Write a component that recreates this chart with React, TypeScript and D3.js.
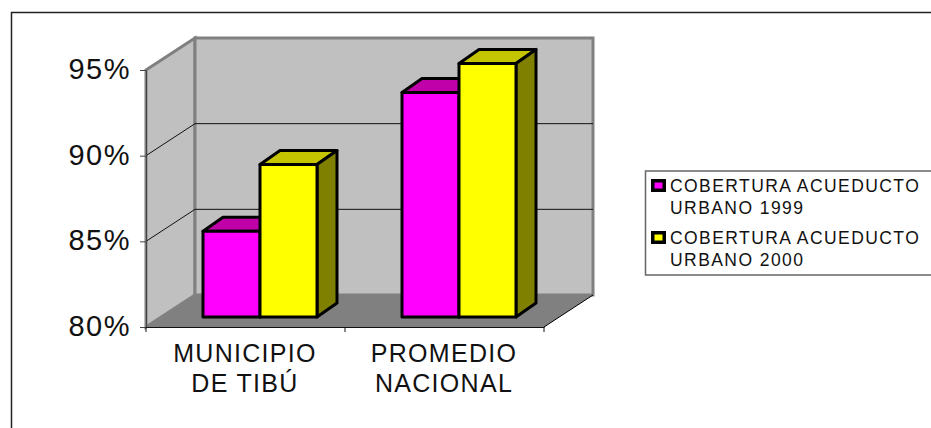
import { useEffect, useRef } from 'react'
import * as d3 from 'd3'

const categories = ['MUNICIPIO DE TIBÚ', 'PROMEDIO NACIONAL']
const categoryLines = [['MUNICIPIO', 'DE TIBÚ'], ['PROMEDIO', 'NACIONAL']]
const seriesNames = ['1999', '2000']
const values1999 = [85, 93.1]
const values2000 = [88.9, 94.8]
const yTicks = [80, 85, 90, 95]
const legendLines = [['COBERTURA ACUEDUCTO', 'URBANO 1999'], ['COBERTURA ACUEDUCTO', 'URBANO 2000']]

const FONT = '"Liberation Sans", Arial, sans-serif'
const X0 = 146, X1 = 544, Y0 = 327, Y1 = 70
const DX = 49, DY = -32 // box depth
const BDX = 20, BDY = -14 // bar depth
const OFFX = 14.5, OFFY = -10 // bar position inside the box
const faces = [
  { front: '#ff00ff', top: '#c000a8', side: '#800080' },
  { front: '#ffff00', top: '#c4c400', side: '#808000' },
]

export default function App() {
  const svgRef = useRef<SVGSVGElement>(null)

  useEffect(() => {
    const svg = d3.select(svgRef.current)
    svg.selectAll('*').remove()

    const xSc = d3.scaleBand<string>().domain(categories).range([X0, X1])
    const inner = d3.scaleBand<string>().domain(seriesNames).range([0, 114])
    const ySc = d3.scaleLinear().domain([80, 95]).range([Y0, Y1])
    const pts = (p: number[][]) => p.map((q) => q.join(',')).join(' ')

    // chart frame, only top and left are inside the picture
    svg.append('path').attr('d', 'M11.5,428V12.5H931').attr('fill', 'none').attr('stroke', '#222').attr('stroke-width', 1.5)

    // walls and floor
    svg.append('polygon').attr('points', pts([[X0, Y1], [X0 + DX, Y1 + DY], [X0 + DX, Y0 + DY], [X0, Y0]])).attr('fill', '#c0c0c0').attr('stroke', '#808080').attr('stroke-width', 3)
    svg.append('rect').attr('x', X0 + DX).attr('y', Y1 + DY).attr('width', X1 - X0).attr('height', Y0 - Y1).attr('fill', '#c0c0c0').attr('stroke', '#808080').attr('stroke-width', 3)
    svg.append('polygon').attr('points', pts([[X0, Y0], [X0 + DX, Y0 + DY], [X1 + DX, Y0 + DY], [X1, Y0]])).attr('fill', '#808080')
    svg.append('line').attr('x1', X1).attr('x2', X1 + DX).attr('y1', Y0).attr('y2', Y0 + DY).attr('stroke', '#000')

    // gridlines run along the side wall and across the back wall
    yTicks.filter((t) => t > 80 && t < 95).forEach((t) => {
      svg.append('path').attr('d', `M${X0},${ySc(t)}L${X0 + DX},${ySc(t) + DY}H${X1 + DX}`).attr('fill', 'none').attr('stroke', '#111').attr('stroke-width', 1)
    })

    // axes
    const yAxis = svg.append('g').attr('transform', `translate(${X0},0)`)
      .call(d3.axisLeft(ySc).tickValues(yTicks).tickSize(6).tickPadding(9).tickFormat((d) => `${d}%`))
    yAxis.selectAll('.domain').attr('stroke', '#444')
    yAxis.selectAll('.tick line').attr('stroke', '#444')
    yAxis.selectAll('.tick text').attr('fill', '#111').attr('font-size', '29px').attr('letter-spacing', '1.5px').attr('dy', '0.29em').attr('font-family', FONT)

    const xAxis = svg.append('g').attr('transform', `translate(0,${Y0})`)
      .call(d3.axisBottom(xSc).tickSize(0).tickFormat(() => ''))
    xAxis.selectAll('.domain').attr('stroke', '#111')
    xAxis.selectAll('.tick line').remove()
    const edges = [X0, ...categories.map((c) => (xSc(c) as number) + xSc.bandwidth())]
    edges.forEach((e) => svg.append('line').attr('x1', e).attr('x2', e).attr('y1', Y0).attr('y2', Y0 + 5).attr('stroke', '#111'))

    categories.forEach((c, i) => {
      categoryLines[i].forEach((ln, j) => {
        svg.append('text').attr('x', (xSc(c) as number) + xSc.bandwidth() / 2 - 0.5).attr('y', 361.5 + j * 30.5)
          .attr('text-anchor', 'middle').attr('fill', '#111').attr('font-size', '25px').attr('letter-spacing', '1.3px')
          .attr('font-family', FONT).text(ln)
      })
    })

    // bars, back series first so the yellow box overlaps the magenta one
    const series = [values1999, values2000]
    series.forEach((vals, s) => {
      vals.forEach((v, i) => {
        const x = (xSc(categories[i]) as number) + OFFX + 42.5 + (inner(seriesNames[s]) as number)
        const w = inner.bandwidth()
        const top = ySc(v) + OFFY
        const base = Y0 + OFFY
        const g = svg.append('g').attr('stroke', '#000').attr('stroke-width', 3).attr('stroke-linejoin', 'round')
        g.append('polygon').attr('points', pts([[x, top], [x + BDX, top + BDY], [x + w + BDX, top + BDY], [x + w, top]])).attr('fill', faces[s].top)
        g.append('polygon').attr('points', pts([[x + w, top], [x + w + BDX, top + BDY], [x + w + BDX, base + BDY], [x + w, base]])).attr('fill', faces[s].side)
        g.append('rect').attr('x', x).attr('y', top).attr('width', w).attr('height', base - top).attr('fill', faces[s].front)
      })
    })

    // legend
    svg.append('rect').attr('x', 645.5).attr('y', 171).attr('width', 290).attr('height', 104).attr('fill', '#fff').attr('stroke', '#666').attr('stroke-width', 1.5)
    legendLines.forEach((lines, s) => {
      const y = 180.75 + s * 52
      svg.append('rect').attr('x', 652.75).attr('y', y).attr('width', 11.5).attr('height', 9.5).attr('fill', faces[s].front).attr('stroke', '#000').attr('stroke-width', 3.5)
      lines.forEach((ln, j) => {
        svg.append('text').attr('x', 670).attr('y', 192 + s * 52 + j * 21.5)
          .attr('fill', '#111').attr('font-size', '17.5px').attr('letter-spacing', '1.43px')
          .attr('font-family', FONT).text(ln)
      })
    })
  }, [])

  return <svg ref={svgRef} width={931} height={428} style={{ position: 'fixed', left: 0, top: 0, background: '#fff' }} />
}
